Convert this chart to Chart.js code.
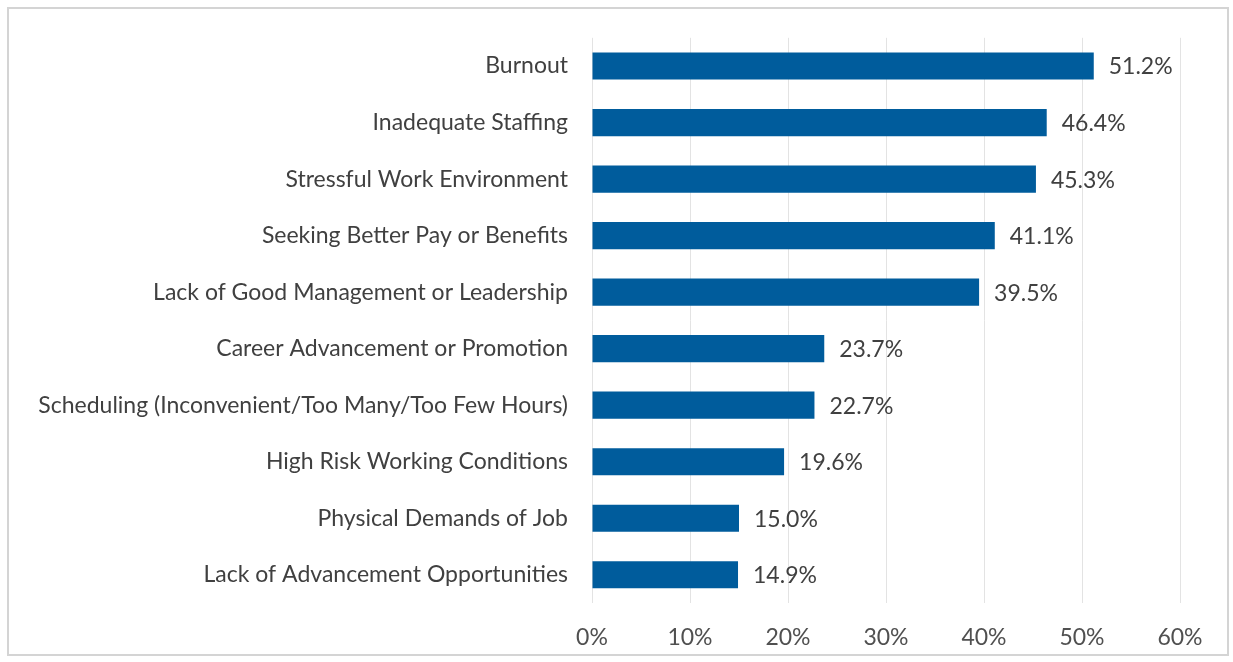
<!DOCTYPE html>
<html>
<head>
<meta charset="utf-8">
<script src="https://cdn.jsdelivr.net/npm/chart.js@4/dist/chart.umd.min.js"></script>
<style>
  html, body { margin: 0; padding: 0; background: #ffffff; }
  #wrap { position: relative; width: 1233px; height: 662px; }
  #frame { position: absolute; left: 7px; top: 7px; width: 1222px; height: 649px;
           border: 2px solid #d4d4d4; box-sizing: border-box; pointer-events: none; }
  canvas { position: absolute; left: 0; top: 0; }
</style>
</head>
<body>
<div id="wrap">
  <canvas id="c" width="1233" height="662"></canvas>
  <div id="frame"></div>
</div>
<script>
// Reasons for leaving, share of respondents (%)
const categories = [
  "Burnout",
  "Inadequate Staffing",
  "Stressful Work Environment",
  "Seeking Better Pay or Benefits",
  "Lack of Good Management or Leadership",
  "Career Advancement or Promotion",
  "Scheduling (Inconvenient/Too Many/Too Few Hours)",
  "High Risk Working Conditions",
  "Physical Demands of Job",
  "Lack of Advancement Opportunities"
];
const values = [51.2, 46.4, 45.3, 41.1, 39.5, 23.7, 22.7, 19.6, 15.0, 14.9];
const xTicks = [0, 10, 20, 30, 40, 50, 60];

const FONT = "Lato, 'Liberation Sans', sans-serif";

// Writes each bar's value just past its end
const valueLabels = {
  id: 'valueLabels',
  afterDatasetsDraw(chart) {
    const ctx = chart.ctx;
    const meta = chart.getDatasetMeta(0);
    ctx.save();
    ctx.font = "23px " + FONT;
    ctx.fillStyle = "#404040";
    ctx.textAlign = "left";
    ctx.textBaseline = "middle";
    meta.data.forEach((bar, i) => {
      ctx.fillText(values[i].toFixed(1) + "%", bar.x + 15, bar.y + 1);
    });
    ctx.restore();
  }
};

new Chart(document.getElementById('c'), {
  type: 'bar',
  data: {
    labels: categories,
    datasets: [{
      data: values,
      backgroundColor: "#005c9c",
      borderWidth: 0,
      barPercentage: 0.48,
      categoryPercentage: 1.0
    }]
  },
  options: {
    indexAxis: 'y',
    responsive: false,
    animation: false,
    devicePixelRatio: 1,
    layout: { padding: { top: 37, right: 53, left: 0, bottom: 0 } },
    plugins: { legend: { display: false }, tooltip: { enabled: false } },
    scales: {
      x: {
        min: 0, max: 60,
        afterBuildTicks(axis) { axis.ticks = xTicks.map(v => ({ value: v })); },
        afterFit(axis) { axis.height = 59; },
        grid: { color: "#e3e3e3", lineWidth: 1, drawTicks: false },
        border: { display: false },
        ticks: {
          padding: 21,
          color: "#505050",
          font: { family: FONT, size: 23 },
          callback: v => v + "%"
        }
      },
      y: {
        afterFit(axis) { axis.width = 592; },
        grid: { display: false, drawTicks: false },
        border: { display: false },
        ticks: {
          padding: 24,
          color: "#404040",
          font: { family: FONT, size: 23 }
        }
      }
    }
  },
  plugins: [valueLabels]
});
</script>
</body>
</html>
